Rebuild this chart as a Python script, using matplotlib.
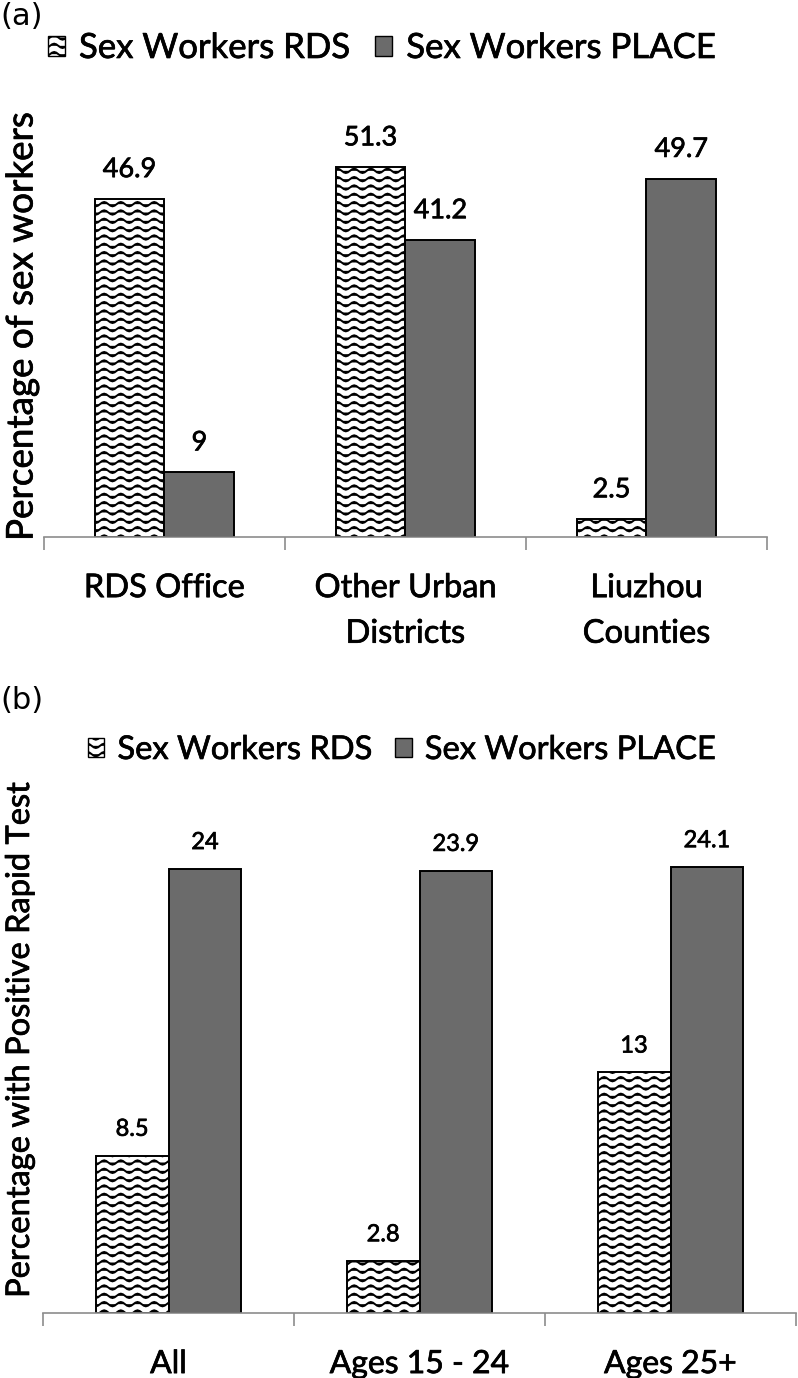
import warnings
import numpy as np
import matplotlib
matplotlib.use("Agg")
import matplotlib.pyplot as plt
import matplotlib.patheffects as pe
from matplotlib import hatch as mhatch
from matplotlib.path import Path
from matplotlib.patches import Patch

warnings.filterwarnings("ignore", message=".*hatch must consist.*")

# data
series_names = ["Sex Workers RDS", "Sex Workers PLACE"]

a_categories = ["RDS Office", "Other Urban\nDistricts", "Liuzhou\nCounties"]
a_rds = [46.9, 51.3, 2.5]
a_place = [9, 41.2, 49.7]

b_categories = ["All", "Ages 15 - 24", "Ages 25+"]
b_rds = [8.5, 2.8, 13]
b_place = [24, 23.9, 24.1]

PLACE_COLOR = "#6b6b6b"
AXIS_GRAY = "#8c8c8c"
BOLDEN = [pe.withStroke(linewidth=0.5, foreground="black")]


class WaveHatch(mhatch.HatchPatternBase):
    """Wavy 'z' hatch, like the Excel zigzag fill."""

    rows = 12
    waves = 6
    pts = 8

    def __init__(self, hatch, density):
        self.on = hatch.count("z") > 0
        self.per_row = self.waves * self.pts + 1
        self.num_vertices = self.rows * self.per_row if self.on else 0

    def set_vertices_and_codes(self, vertices, codes):
        xs = np.linspace(0.0, 1.0, self.per_row)
        wave = 0.022 * np.sin(2 * np.pi * self.waves * xs)
        for r in range(self.rows):
            y0 = (r + 0.5) / self.rows
            sl = slice(r * self.per_row, (r + 1) * self.per_row)
            vertices[sl, 0] = xs
            vertices[sl, 1] = y0 + wave
            codes[sl] = Path.LINETO
            codes[r * self.per_row] = Path.MOVETO


mhatch._hatch_types.append(WaveHatch)
plt.rcParams["hatch.linewidth"] = 1.4
plt.rcParams["font.family"] = ["Lato", "DejaVu Sans"]


def draw_panel(ax, categories, rds, place, top, label_size, cat_size, offset):
    x = np.arange(len(categories))
    w = 0.29
    b1 = ax.bar(x - w / 2, rds, w, facecolor="white", edgecolor="black",
                hatch="z", linewidth=1.4)
    b2 = ax.bar(x + w / 2, place, w, facecolor=PLACE_COLOR, edgecolor="black",
                linewidth=1.4)
    for bars in (b1, b2):
        for rect in bars:
            h = rect.get_height()
            ax.annotate(f"{h:g}", (rect.get_x() + rect.get_width() / 2, h),
                        xytext=(0, offset), textcoords="offset points",
                        ha="center", va="center", fontsize=label_size,
                        path_effects=BOLDEN)

    ax.set_xlim(-0.5, len(categories) - 0.5)
    ax.set_ylim(0, top)
    ax.set_yticks([])
    for side in ("left", "right", "top"):
        ax.spines[side].set_visible(False)
    ax.spines["bottom"].set_color(AXIS_GRAY)
    ax.spines["bottom"].set_linewidth(1.2)

    ax.set_xticks(x)
    ax.set_xticklabels(categories, fontsize=cat_size, linespacing=1.65,
                       path_effects=BOLDEN)
    ax.tick_params(axis="x", which="major", length=0, pad=26)
    ax.set_xticks(np.arange(len(categories) + 1) - 0.5, minor=True)
    ax.tick_params(axis="x", which="minor", length=9.5, width=1.2,
                   color=AXIS_GRAY, direction="out")


fig = plt.figure(figsize=(7.98, 13.78), dpi=100)

ax_a = fig.add_axes([0.0551, 0.6103, 0.906, 0.314])
draw_panel(ax_a, a_categories, a_rds, a_place, 60, 19.5, 23.5, 21)

ax_b = fig.add_axes([0.0539, 0.0472, 0.9436, 0.3625])
draw_panel(ax_b, b_categories, b_rds, b_place, 27, 17, 23, 19)

handles = [Patch(facecolor="white", edgecolor="black", hatch="z", linewidth=1.0),
           Patch(facecolor=PLACE_COLOR, edgecolor="black", linewidth=1.0)]
for yc, xc, size in ((1 - 48 / 1378, 382 / 798, 25),
                     (1 - 750 / 1378, 402 / 798, 23.5)):
    leg = fig.legend(handles, series_names, loc="center",
                     bbox_to_anchor=(xc, yc), ncol=2, frameon=False,
                     fontsize=size, handlelength=0.5, handleheight=0.5,
                     handletextpad=0.4, columnspacing=0.7, borderpad=0)
    for t in leg.get_texts():
        t.set_path_effects(BOLDEN)

fig.text(0.0, 1 - 2 / 1378, "(a)", ha="left", va="top", fontsize=22,
         family="DejaVu Sans")
fig.text(0.0, 1 - 686 / 1378, "(b)", ha="left", va="top", fontsize=22,
         family="DejaVu Sans")

fig.text(22 / 798, 1 - 327 / 1378, "Percentage of sex workers", rotation=90,
         ha="center", va="center", fontsize=26.5, path_effects=BOLDEN)
fig.text(20 / 798, 1 - 1040 / 1378, "Percentage with Positive Rapid Test",
         rotation=90, ha="center", va="center", fontsize=23.5,
         path_effects=BOLDEN)

fig.savefig("out.png", dpi=100)
